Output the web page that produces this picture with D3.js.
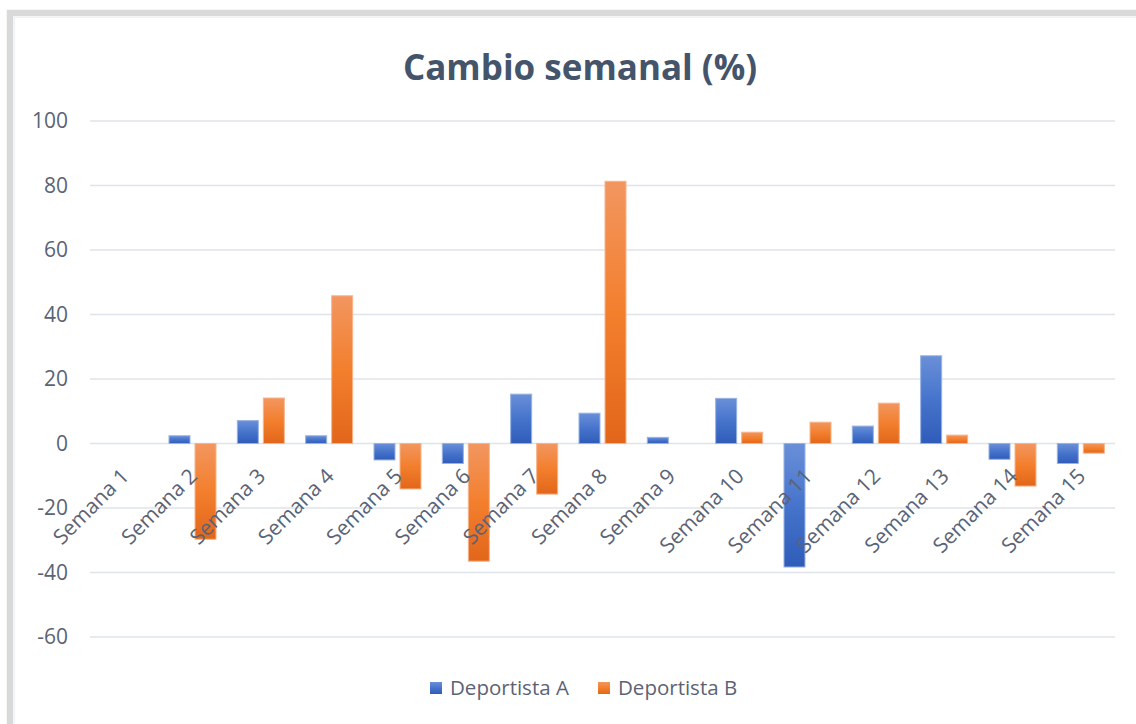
<!DOCTYPE html>
<html>
<head>
<meta charset="utf-8">
<script src="https://cdn.jsdelivr.net/npm/d3@7"></script>
<style>
  html, body { margin: 0; padding: 0; background: #ffffff; }
  svg { display: block; }
</style>
</head>
<body>
<script>
const categories = ["Semana 1","Semana 2","Semana 3","Semana 4","Semana 5","Semana 6","Semana 7","Semana 8","Semana 9","Semana 10","Semana 11","Semana 12","Semana 13","Semana 14","Semana 15"];
const seriesNames = ["Deportista A", "Deportista B"];
const deportistaA = [0, 2.4, 7.1, 2.4, -5.1, -6.2, 15.3, 9.4, 1.9, 14.0, -38.3, 5.4, 27.2, -4.9, -6.2];
const deportistaB = [0, -29.7, 14.1, 45.8, -14.1, -36.5, -15.7, 81.3, 0, 3.5, 6.6, 12.5, 2.6, -13.2, -3.0];
const yTicks = [-60, -40, -20, 0, 20, 40, 60, 80, 100];
const titleText = "Cambio semanal (%)";

const W = 1136, H = 724;
const svg = d3.select("body").append("svg").attr("width", W).attr("height", H);

// gradients
const defs = svg.append("defs");
function grad(id, stops) {
  const g = defs.append("linearGradient").attr("id", id)
    .attr("x1", 0).attr("y1", 0).attr("x2", 0).attr("y2", 1);
  stops.forEach(s => g.append("stop").attr("offset", s[0]).attr("stop-color", s[1]));
}
grad("gA", [[0, "#6a8fd8"], [0.5, "#4674cc"], [1, "#2e5cb8"]]);
grad("gB", [[0, "#f29660"], [0.5, "#f37f2d"], [1, "#e2661a"]]);
const fills = {"Deportista A": "url(#gA)", "Deportista B": "url(#gB)"};
const strokes = {"Deportista A": "#98b2e2", "Deportista B": "#f7b48a"};

// frame
svg.append("rect").attr("x", 10).attr("y", 13).attr("width", 1300).attr("height", 900)
  .attr("fill", "none").attr("stroke", "#d9d9d9").attr("stroke-width", 6.5);
svg.append("rect").attr("x", 14.5).attr("y", 17.5).attr("width", 1300).attr("height", 900)
  .attr("fill", "none").attr("stroke", "#eef1f6").attr("stroke-width", 1);

const plotL = 90, plotR = 1115;
const y = d3.scaleLinear().domain([-60, 100]).range([637, 121]);
const x0 = d3.scaleBand().domain(categories).range([plotL, plotR])
  .paddingInner(0.312).paddingOuter(0.156);
const x1 = d3.scaleBand().domain(seriesNames).range([0, x0.bandwidth()]).paddingInner(0.1923);

const FONT = "'Open Sans', sans-serif";
const TXT = "#5a6376";

// title
svg.append("text").attr("x", 580).attr("y", 80).attr("text-anchor", "middle")
  .attr("font-family", FONT).attr("font-weight", 700)
  .attr("font-size", 35).attr("fill", "#44546a").text(titleText);

// gridlines
svg.append("g").selectAll("line").data(yTicks).join("line")
  .attr("x1", plotL).attr("x2", plotR)
  .attr("y1", d => y(d)).attr("y2", d => y(d))
  .attr("stroke", "#dfe3ea").attr("stroke-width", 1.6);

// y axis
const yAxis = svg.append("g").attr("transform", `translate(${plotL},0)`)
  .call(d3.axisLeft(y).tickValues(yTicks).tickSize(0).tickPadding(22).tickFormat(d => String(d)));
yAxis.select(".domain").remove();
yAxis.selectAll("text").attr("font-family", FONT).attr("font-size", 21)
  .attr("fill", TXT);

// bars
const data = categories.map((c, i) => ({cat: c, vals: [
  {s: "Deportista A", v: deportistaA[i]}, {s: "Deportista B", v: deportistaB[i]}]}));
const groups = svg.append("g").selectAll("g").data(data).join("g")
  .attr("transform", d => `translate(${x0(d.cat)},0)`);
groups.selectAll("rect").data(d => d.vals.filter(e => e.v !== 0)).join("rect")
  .attr("x", d => x1(d.s)).attr("width", x1.bandwidth())
  .attr("y", d => Math.min(y(d.v), y(0)))
  .attr("height", d => Math.abs(y(d.v) - y(0)))
  .attr("fill", d => fills[d.s]).attr("stroke", d => strokes[d.s]).attr("stroke-width", 1);

// x labels
const xAxis = svg.append("g").attr("transform", `translate(0,${y(0)})`)
  .call(d3.axisBottom(x0).tickSize(0));
xAxis.select(".domain").remove();
xAxis.selectAll("text")
  .attr("text-anchor", "end")
  .attr("font-family", FONT).attr("font-size", 21)
  .attr("fill", TXT)
  .attr("dy", null).attr("y", null)
  .attr("transform", "translate(6,34) rotate(-45)");

// legend
const legend = svg.append("g");
const legendX = [430, 598];
seriesNames.forEach((s, i) => {
  legend.append("rect").attr("x", legendX[i]).attr("y", 682).attr("width", 12).attr("height", 12)
    .attr("fill", fills[s]);
  legend.append("text").attr("x", legendX[i] + 20).attr("y", 695)
    .attr("font-family", FONT).attr("font-size", 20.5)
    .attr("fill", TXT).text(s);
});
</script>
</body>
</html>
